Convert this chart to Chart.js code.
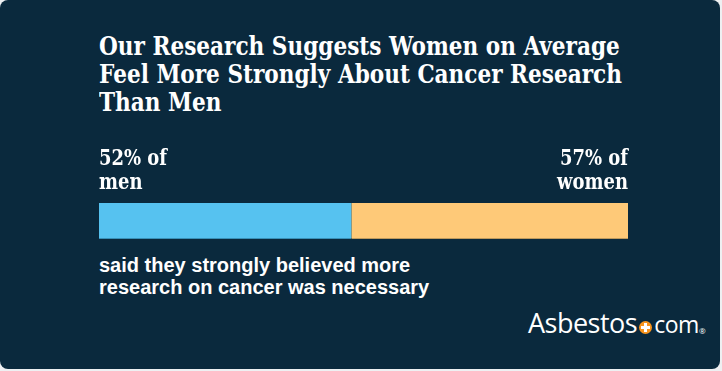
<!DOCTYPE html>
<html>
<head>
<meta charset="utf-8">
<script src="https://cdn.jsdelivr.net/npm/chart.js@4"></script>
<style>
  html, body { margin: 0; padding: 0; background: #eef0f2; }
  .card { position: relative; width: 720px; height: 369px; background: #0a293d; border-radius: 8px; overflow: hidden; }
  .title { position: absolute; left: 99px; top: 32px; color: #fff; font: bold 26px "DejaVu Serif", serif; line-height: 28px; white-space: nowrap; }
  .note { position: absolute; left: 99px; top: 254px; color: #fff; font: bold 20px "Liberation Sans", Arial, sans-serif; line-height: 22px; }
  #chartWrap { position: absolute; left: 0; top: 130px; width: 722px; height: 120px; }
  .logo { position: absolute; left: 528px; top: 304px; color: #fff; font: 27px "Open Sans", sans-serif; letter-spacing: -0.5px; }
  .logo .dot { display: inline-block; width: 13px; height: 13px; border-radius: 50%; background: #f7941d; position: relative; margin: 0 2px; vertical-align: -1px; }
  .logo .dot::before { content: ''; position: absolute; left: 5px; top: 2px; width: 3px; height: 9px; background: #fff; }
  .logo .dot::after { content: ''; position: absolute; left: 2px; top: 5px; width: 9px; height: 3px; background: #fff; }
  .logo .com { font-size: 23px; }
  .logo sup { font-size: 8px; vertical-align: -1px; }
</style>
</head>
<body>
<div class="card">
  <div class="title" id="title">Our Research Suggests Women on Average<br>Feel More Strongly About Cancer Research<br>Than Men</div>
  <div id="chartWrap"><canvas id="barChart"></canvas></div>
  <div class="note">said they strongly believed more<br>research on cancer was necessary</div>
  <div class="logo">Asbestos<span class="dot"></span><span class="com">com</span><sup>®</sup></div>
</div>
<script>
const categories = ['Strongly believed more cancer research was necessary'];
const groups = ['men', 'women'];
const percents = [52, 57];
const barColors = ['#56c2f0', '#fec978'];
const edgeColors = ['#2f7fa6', '#a88a55'];

// squeeze the slab title so its first line ends where the bar ends
const title = document.getElementById('title');
const titleScale = 523 / title.getBoundingClientRect().width;
title.style.transformOrigin = 'left top';
title.style.transform = 'scaleX(' + titleScale + ')';

// draws "52% of / men" above each end of the bar
const groupLabels = {
    id: 'groupLabels',
    afterDatasetsDraw(chart) {
        const ctx = chart.ctx;
        const area = chart.chartArea;
        ctx.save();
        ctx.fillStyle = '#ffffff';
        ctx.font = 'bold 22px "DejaVu Serif", serif';
        ctx.textBaseline = 'alphabetic';
        // DejaVu is wider than the original slab face, narrow it a bit
        const sx = 68 / ctx.measureText(percents[0] + '% of').width;
        chart.data.datasets.forEach((ds, i) => {
            const bar = chart.getDatasetMeta(i).data[0];
            const first = i === 0;
            const x = first ? bar.base : bar.x;
            ctx.save();
            ctx.translate(x, 0);
            ctx.scale(sx, 1);
            ctx.textAlign = first ? 'left' : 'right';
            ctx.fillText(percents[i] + '% of', 0, area.top - 38);
            ctx.fillText(groups[i], 0, area.top - 14);
            ctx.restore();
        });
        ctx.restore();
    }
};

const ctx = document.getElementById('barChart').getContext('2d');
new Chart(ctx, {
    type: 'bar',
    data: {
        labels: categories,
        datasets: groups.map((g, i) => ({
            label: g,
            data: [percents[i]],
            backgroundColor: barColors[i],
            borderColor: edgeColors[i],
            borderWidth: { top: 0, left: 0, right: 0, bottom: 1 },
            borderSkipped: false,
            barPercentage: 1,
            categoryPercentage: 1
        }))
    },
    options: {
        indexAxis: 'y',
        responsive: true,
        maintainAspectRatio: false,
        animation: false,
        layout: { padding: { left: 99, right: 94, top: 73, bottom: 11 } },
        scales: {
            x: { stacked: true, display: false, min: 0, max: percents[0] + percents[1] },
            y: { stacked: true, display: false }
        },
        plugins: { legend: { display: false }, tooltip: { enabled: false } }
    },
    plugins: [groupLabels]
});
</script>
</body>
</html>
